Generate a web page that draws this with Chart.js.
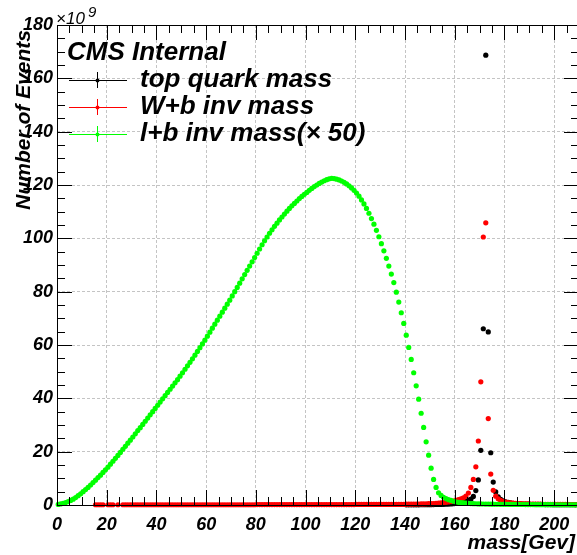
<!DOCTYPE html>
<html>
<head>
<meta charset="utf-8">
<script src="https://cdn.jsdelivr.net/npm/chart.js@4.4.0/dist/chart.umd.min.js"></script>
<style>
html, body { margin: 0; padding: 0; background: #fff; overflow: hidden; }
canvas { display: block; }
</style>
</head>
<body>
<canvas id="grafica" width="585" height="555"></canvas>
<script>
// tick labels
const xTicks = [0, 20, 40, 60, 80, 100, 120, 140, 160, 180, 200];
const yTicks = [0, 20, 40, 60, 80, 100, 120, 140, 160, 180];

// 1 GeV bins, values in units of 1e9 events
const binWidth = 1;

// l+b inv mass (x 50), bins from 0
const lbFirstBin = 0;
const lbMass = [
  0.2, 0.4, 0.6, 0.9, 1.3, 1.7, 2.2, 2.8, 3.5, 4.2,
  5.0, 5.8, 6.6, 7.5, 8.4, 9.3, 10.3, 11.2, 12.2, 13.2,
  14.2, 15.3, 16.4, 17.5, 18.6, 19.7, 20.9, 22.0, 23.2, 24.3,
  25.5, 26.7, 27.9, 29.0, 30.2, 31.4, 32.6, 33.8, 35.0, 36.2,
  37.4, 38.6, 39.8, 41.0, 42.2, 43.4, 44.6, 45.8, 47.0, 48.3,
  49.6, 50.9, 52.2, 53.5, 54.8, 56.2, 57.6, 59.0, 60.4, 61.8,
  63.3, 64.8, 66.3, 67.8, 69.3, 70.8, 72.3, 73.8, 75.3, 76.8,
  78.4, 80.0, 81.6, 83.2, 84.8, 86.4, 88.0, 89.6, 91.2, 92.8,
  94.4, 96.0, 97.6, 99.1, 100.5, 101.9, 103.2, 104.5, 105.7, 106.9,
  108.0, 109.1, 110.2, 111.2, 112.2, 113.1, 114.0, 114.9, 115.7, 116.5,
  117.2, 118.0, 118.7, 119.4, 120.0, 120.6, 121.1, 121.6, 122.0, 122.3,
  122.5, 122.4, 122.2, 121.9, 121.5, 121.0, 120.4, 119.7, 118.9, 118.0,
  117.0, 115.8, 114.4, 112.9, 111.2, 109.4, 107.4, 105.3, 103.0, 100.6,
  98.0, 95.3, 92.5, 89.6, 86.6, 83.4, 79.8, 76.1, 72.1, 68.1,
  63.7, 59.1, 54.6, 49.6, 44.7, 39.7, 34.4, 29.1, 23.7, 18.7,
  13.8, 9.6, 6.6, 4.6, 3.6, 2.9, 2.4, 2.0, 1.7, 1.4,
  1.2, 1.0, 0.9, 0.8, 0.7, 0.6, 0.55, 0.5, 0.46, 0.42,
  0.4, 0.38, 0.36, 0.34, 0.32, 0.3, 0.29, 0.28, 0.27, 0.26,
  0.25, 0.24, 0.23, 0.22, 0.21, 0.2, 0.19, 0.18, 0.17, 0.16,
  0.15, 0.15, 0.14, 0.14, 0.13, 0.13, 0.12, 0.12, 0.11, 0.11,
  0.1, 0.1, 0.1, 0.09, 0.09, 0.09, 0.08, 0.08, 0.08, 0.08
];

// W+b inv mass, bins from 15 (null = empty bin)
const wbFirstBin = 15;
const wbMass = [
  0.1, 0.1, 0.1, 0.1, null, 0.1, 0.1, 0.1, null, 0.1,
  null, 0.1, 0.1, 0.1, 0.1, 0.1, 0.1, 0.1, 0.1, 0.1,
  0.1, 0.1, 0.1, 0.1, 0.1, 0.1, 0.1, 0.1, 0.1, 0.1,
  0.1, 0.1, 0.1, 0.1, 0.1, 0.1, 0.1, 0.1, 0.1, 0.1,
  0.1, 0.1, 0.1, 0.1, 0.1, 0.1, 0.1, 0.1, 0.1, 0.1,
  0.1, 0.1, 0.1, 0.1, 0.1, 0.1, 0.1, 0.1, 0.1, 0.1,
  0.1, 0.1, 0.1, 0.1, 0.1, 0.15, 0.15, 0.15, 0.15, 0.15,
  0.15, 0.15, 0.15, 0.15, 0.15, 0.15, 0.15, 0.15, 0.15, 0.15,
  0.15, 0.15, 0.15, 0.15, 0.15, 0.15, 0.15, 0.15, 0.15, 0.15,
  0.15, 0.15, 0.15, 0.15, 0.15, 0.15, 0.15, 0.15, 0.15, 0.15,
  0.15, 0.15, 0.15, 0.15, 0.15, 0.2, 0.2, 0.2, 0.2, 0.2,
  0.2, 0.2, 0.2, 0.2, 0.2, 0.2, 0.2, 0.2, 0.2, 0.2,
  0.2, 0.2, 0.2, 0.2, 0.2, 0.3, 0.3, 0.32, 0.34, 0.36,
  0.38, 0.4, 0.42, 0.45, 0.48, 0.5, 0.55, 0.6, 0.7, 0.8,
  0.9, 1.0, 1.15, 1.3, 1.5, 1.7, 2.0, 2.3, 2.7, 3.3,
  4.5, 6.6, 9.6, 14.3, 24.0, 46.2, 100.5, 105.8, 32.4, 11.6,
  5.5, 3.3, 2.3, 1.7, 1.3, 1.1, 0.9, 0.8, 0.7, 0.6,
  0.55, 0.5, 0.45, 0.42, 0.4, 0.38, 0.36, 0.34, 0.32, 0.3,
  0.29, 0.28, 0.27, 0.26, 0.25, 0.24, 0.23, 0.22, 0.21, 0.2,
  0.2, 0.19, 0.19, 0.18, 0.18
];

// top quark mass, bins from 140
const topFirstBin = 140;
const topMass = [
  0.05, 0.05, 0.06, 0.06, 0.07, 0.08, 0.09, 0.1, 0.11, 0.12,
  0.14, 0.16, 0.18, 0.2, 0.23, 0.26, 0.3, 0.35, 0.4, 0.48,
  0.6, 0.7, 0.9, 1.1, 1.4, 1.8, 2.2, 3.2, 5.4, 9.4,
  20.5, 66.1, 168.7, 64.9, 19.6, 8.6, 4.9, 3.1, 2.1, 1.6,
  1.2, 1.0, 0.8, 0.65, 0.55, 0.48, 0.42, 0.37, 0.33, 0.3,
  0.27, 0.25, 0.23, 0.21, 0.2, 0.18, 0.17, 0.16, 0.15, 0.14,
  0.13, 0.12, 0.12, 0.11, 0.1, 0.1, 0.09, 0.09, 0.08, 0.08
];

const legendEntries = ['top quark mass', 'W+b inv mass', 'l+b inv mass(\u00d7 50)'];
const legendColors = ['#000000', '#ff0000', '#00ff00'];

const fuente = 'Liberation Sans, Arial, Helvetica, sans-serif';

function toPoints(firstBin, counts) {
  return counts
    .map((v, i) => ({ x: firstBin + (i + 0.5) * binWidth, y: v }))
    .filter(p => p.y !== null);
}

function dataset(label, counts, firstBin, color, order) {
  return {
    label: label,
    data: toPoints(firstBin, counts),
    showLine: false,
    pointRadius: 2.6,
    pointBorderWidth: 0,
    pointBackgroundColor: color,
    borderColor: color,
    backgroundColor: color,
    order: order,
    clip: 6
  };
}

// ROOT style frame, inner ticks, legend and axis texts
const marcoRoot = {
  id: 'marcoRoot',
  afterDraw(chart) {
    const ctx = chart.ctx;
    const a = chart.chartArea;
    const x = chart.scales.x;
    const y = chart.scales.y;
    ctx.save();
    ctx.strokeStyle = '#000';
    ctx.lineWidth = 1;
    ctx.strokeRect(Math.round(a.left) + 0.5, Math.round(a.top) + 0.5,
      Math.round(a.right - a.left), Math.round(a.bottom - a.top));

    ctx.beginPath();
    for (let v = 0; v <= x.max; v += 5) {
      const px = Math.round(x.getPixelForValue(v)) + 0.5;
      const len = v % 20 === 0 ? 15 : 8;
      ctx.moveTo(px, a.bottom); ctx.lineTo(px, a.bottom - len);
      ctx.moveTo(px, a.top); ctx.lineTo(px, a.top + len);
    }
    for (let v = 0; v <= y.max; v += 5) {
      const py = Math.round(y.getPixelForValue(v)) + 0.5;
      const len = v % 20 === 0 ? 15 : 8;
      ctx.moveTo(a.left, py); ctx.lineTo(a.left + len, py);
      ctx.moveTo(a.right, py); ctx.lineTo(a.right - len, py);
    }
    ctx.stroke();

    ctx.fillStyle = '#000';
    ctx.textAlign = 'left';
    ctx.textBaseline = 'alphabetic';
    ctx.font = 'italic 17px ' + fuente;
    ctx.fillText('\u00d710', 56, 24);
    ctx.font = 'italic 15px ' + fuente;
    ctx.fillText('9', 88, 17);

    ctx.font = 'bold italic 26px ' + fuente;
    ctx.fillText('CMS Internal', 67, 60);
    legendEntries.forEach((texto, i) => {
      const ly = 80 + i * 27;
      ctx.strokeStyle = legendColors[i];
      ctx.fillStyle = legendColors[i];
      ctx.beginPath();
      ctx.moveTo(69, ly + 0.5); ctx.lineTo(127, ly + 0.5);
      ctx.moveTo(97.5, ly - 8); ctx.lineTo(97.5, ly + 8);
      ctx.stroke();
      ctx.beginPath();
      ctx.arc(97.5, ly + 0.5, 2, 0, Math.PI * 2);
      ctx.fill();
      ctx.fillStyle = '#000';
      ctx.fillText(texto, 140, ly + 7);
    });

    ctx.font = 'bold italic 21px ' + fuente;
    ctx.textAlign = 'right';
    ctx.fillText('mass[Gev]', 575, 549);

    ctx.translate(30, 30);
    ctx.rotate(-Math.PI / 2);
    ctx.fillText('Number of Events', 0, 0);
    ctx.restore();
  }
};

const graficas = document.getElementById('grafica');
const config = {
  type: 'scatter',
  data: {
    datasets: [
      dataset(legendEntries[2], lbMass, lbFirstBin, legendColors[2], 1),
      dataset(legendEntries[1], wbMass, wbFirstBin, legendColors[1], 2),
      dataset(legendEntries[0], topMass, topFirstBin, legendColors[0], 3)
    ]
  },
  options: {
    responsive: false,
    animation: false,
    layout: { padding: { top: 25, right: 6, left: 0, bottom: 0 } },
    plugins: { legend: { display: false }, tooltip: { enabled: false } },
    scales: {
      x: {
        type: 'linear',
        min: 0,
        max: 210,
        afterBuildTicks: s => { s.ticks = xTicks.map(v => ({ value: v })); },
        afterFit: s => { s.height = 50; },
        grid: { color: '#c4c4c4', drawTicks: false },
        border: { display: false, dash: [3, 2] },
        ticks: {
          color: '#000',
          padding: 9,
          maxRotation: 0,
          autoSkip: false,
          font: { family: fuente, size: 18, style: 'italic', weight: 'bold' }
        }
      },
      y: {
        min: 0,
        max: 180,
        afterBuildTicks: s => { s.ticks = yTicks.map(v => ({ value: v })); },
        afterFit: s => { s.width = 57; },
        grid: { color: '#c4c4c4', drawTicks: false },
        border: { display: false, dash: [3, 2] },
        ticks: {
          color: '#000',
          padding: 4,
          autoSkip: false,
          font: { family: fuente, size: 18, style: 'italic', weight: 'bold' }
        }
      }
    }
  },
  plugins: [marcoRoot]
};
window.grafica = new Chart(graficas, config);
</script>
</body>
</html>
